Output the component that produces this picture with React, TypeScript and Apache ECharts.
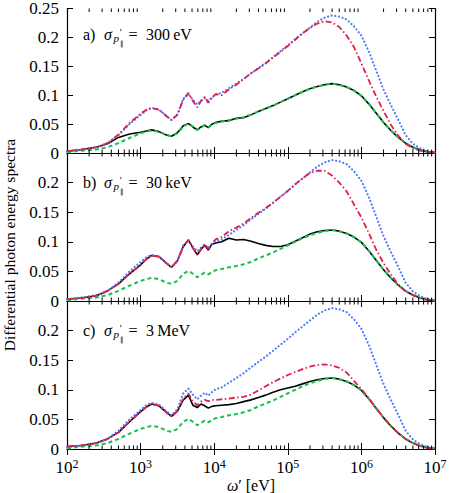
import React, { useEffect, useRef } from 'react';
import * as echarts from 'echarts';

// photon energy omega' [eV]
const omega = [100, 158, 251, 355, 501, 708, 1000, 1202, 1413, 1778, 2239, 2630, 3162, 3802, 4467, 5129, 5888, 6607, 7413, 8318, 9333, 10470, 12590, 15850, 19950, 25120, 31620, 39810, 50120, 63100, 79430, 1e5, 1.259e5, 1.585e5, 1.995e5, 2.512e5, 3.162e5, 3.981e5, 5.012e5, 6.31e5, 7.943e5, 1e6, 1.259e6, 1.585e6, 1.995e6, 2.512e6, 3.162e6, 3.981e6, 5.012e6, 6.31e6, 7.943e6, 1e7];

// green dashed (same in all panels)
const greenCurve = [0.001, 0.004, 0.006, 0.010, 0.017, 0.026, 0.034, 0.037, 0.039, 0.037, 0.031, 0.029, 0.034, 0.046, 0.051, 0.046, 0.040, 0.044, 0.048, 0.045, 0.049, 0.052, 0.054, 0.057, 0.059, 0.062, 0.066, 0.072, 0.077, 0.082, 0.088, 0.094, 0.100, 0.106, 0.111, 0.115, 0.118, 0.120, 0.118, 0.114, 0.108, 0.099, 0.085, 0.069, 0.053, 0.039, 0.027, 0.017, 0.010, 0.005, 0.002, 0.001];

// blue dotted (same in all panels)
const blueCurve = [0.003, 0.006, 0.010, 0.017, 0.031, 0.050, 0.066, 0.074, 0.078, 0.075, 0.064, 0.057, 0.067, 0.094, 0.102, 0.092, 0.084, 0.090, 0.095, 0.090, 0.096, 0.101, 0.104, 0.112, 0.120, 0.128, 0.138, 0.147, 0.156, 0.166, 0.176, 0.186, 0.197, 0.207, 0.217, 0.227, 0.234, 0.238, 0.236, 0.231, 0.219, 0.203, 0.176, 0.143, 0.110, 0.083, 0.058, 0.031, 0.016, 0.008, 0.003, 0.001];

// panel a) sigma = 300 eV
const blackA = [0.003, 0.006, 0.010, 0.016, 0.027, 0.033, 0.036, 0.038, 0.040, 0.037, 0.031, 0.029, 0.035, 0.047, 0.051, 0.045, 0.040, 0.045, 0.048, 0.044, 0.050, 0.053, 0.055, 0.056, 0.060, 0.061, 0.066, 0.072, 0.077, 0.082, 0.088, 0.094, 0.100, 0.106, 0.111, 0.115, 0.118, 0.120, 0.118, 0.114, 0.108, 0.099, 0.085, 0.069, 0.053, 0.039, 0.027, 0.017, 0.010, 0.005, 0.002, 0.001];
const redA = [0.003, 0.006, 0.010, 0.017, 0.032, 0.052, 0.068, 0.075, 0.078, 0.075, 0.064, 0.057, 0.066, 0.092, 0.104, 0.090, 0.079, 0.090, 0.097, 0.087, 0.096, 0.102, 0.100, 0.110, 0.118, 0.128, 0.138, 0.146, 0.155, 0.165, 0.175, 0.185, 0.196, 0.207, 0.216, 0.224, 0.228, 0.226, 0.218, 0.203, 0.183, 0.155, 0.126, 0.098, 0.073, 0.049, 0.030, 0.016, 0.008, 0.004, 0.002, 0.001];

// panel b) sigma = 30 keV
const blackB = [0.003, 0.005, 0.009, 0.017, 0.029, 0.046, 0.061, 0.071, 0.077, 0.075, 0.064, 0.057, 0.068, 0.092, 0.103, 0.090, 0.078, 0.087, 0.094, 0.086, 0.096, 0.098, 0.100, 0.106, 0.103, 0.104, 0.101, 0.097, 0.094, 0.092, 0.092, 0.095, 0.101, 0.107, 0.113, 0.117, 0.119, 0.120, 0.118, 0.114, 0.108, 0.099, 0.085, 0.069, 0.053, 0.039, 0.027, 0.017, 0.010, 0.005, 0.002, 0.001];
const redB = [0.003, 0.005, 0.009, 0.017, 0.029, 0.046, 0.061, 0.071, 0.077, 0.075, 0.064, 0.057, 0.068, 0.092, 0.103, 0.090, 0.078, 0.088, 0.096, 0.088, 0.098, 0.104, 0.108, 0.118, 0.124, 0.131, 0.140, 0.149, 0.157, 0.166, 0.176, 0.186, 0.197, 0.207, 0.216, 0.220, 0.220, 0.212, 0.200, 0.185, 0.163, 0.141, 0.115, 0.087, 0.064, 0.045, 0.028, 0.016, 0.010, 0.004, 0.002, 0.001];

// panel c) sigma = 3 MeV
const blackC = [0.004, 0.006, 0.010, 0.017, 0.028, 0.046, 0.063, 0.071, 0.076, 0.073, 0.062, 0.055, 0.064, 0.083, 0.091, 0.074, 0.070, 0.076, 0.073, 0.069, 0.072, 0.073, 0.074, 0.075, 0.077, 0.080, 0.083, 0.087, 0.091, 0.096, 0.100, 0.103, 0.106, 0.110, 0.114, 0.117, 0.119, 0.120, 0.118, 0.114, 0.108, 0.099, 0.085, 0.069, 0.053, 0.039, 0.027, 0.017, 0.010, 0.005, 0.002, 0.001];
const redC = [0.004, 0.006, 0.010, 0.017, 0.028, 0.046, 0.063, 0.071, 0.076, 0.073, 0.062, 0.055, 0.064, 0.085, 0.094, 0.080, 0.074, 0.080, 0.083, 0.081, 0.083, 0.083, 0.084, 0.085, 0.087, 0.088, 0.092, 0.099, 0.106, 0.113, 0.119, 0.125, 0.130, 0.135, 0.139, 0.142, 0.143, 0.141, 0.137, 0.129, 0.115, 0.101, 0.086, 0.069, 0.053, 0.039, 0.027, 0.017, 0.010, 0.005, 0.002, 0.001];

const panelTags = ['a)', 'b)', 'c)'];
const panelSigma = ['300\u2009eV', '30\u2009keV', '3\u2009MeV'];
const blackSeries = [blackA, blackB, blackC];
const redSeries = [redA, redB, redC];

const xTickExponents = [2, 3, 4, 5, 6, 7];
const yTickLabels = ['0', '0.05', '0.1', '0.15', '0.2', '0.25'];
const minorMultipliers = [2, 3, 4, 5, 6, 7, 8, 9];

const FONT = 'Liberation Serif';
const LEFT = 67;
const WIDTH = 368;
const TOP = 5;
const PH = 148;

export default function App() {
  const ref = useRef<HTMLDivElement>(null);
  useEffect(() => {
    if (!ref.current) return;
    const chart = echarts.init(ref.current, undefined, { renderer: 'svg' });

    const minorTicks: number[][] = [];
    for (let d = 0; d < xTickExponents.length - 1; d++) {
      for (const m of minorMultipliers) minorTicks.push([m * Math.pow(10, xTickExponents[d]), 0]);
    }

    const grids: any[] = [];
    const xAxes: any[] = [];
    const yAxes: any[] = [];
    const series: any[] = [];
    const graphics: any[] = [];

    const axisLine = { show: true, lineStyle: { color: '#000', width: 1.2 } };
    const axisTick = { show: true, inside: true, length: 6, lineStyle: { color: '#000', width: 1 } };

    for (let i = 0; i < 3; i++) {
      grids.push({ left: LEFT, width: WIDTH, top: TOP + PH * i, height: PH, containLabel: false });
      for (const pos of ['bottom', 'top']) {
        xAxes.push({
          type: 'log', logBase: 10, gridIndex: i, min: 100, max: 1e7, position: pos,
          axisLine, axisTick, splitLine: { show: false },
          axisLabel: {
            show: i === 2 && pos === 'bottom', margin: 9,
            formatter: (v: number) => {
              const e = Math.round(Math.log10(v));
              return xTickExponents.includes(e) ? `{b|10}{e|${e}}` : '';
            },
            rich: {
              b: { fontSize: 17, fontFamily: FONT, color: '#000' },
              e: { fontSize: 12, fontFamily: FONT, color: '#000', verticalAlign: 'top', padding: [0, 0, 6, 0] },
            },
          },
        });
      }
      for (const pos of ['left', 'right']) {
        yAxes.push({
          type: 'value', gridIndex: i, min: 0, max: 0.25, interval: 0.05, position: pos,
          axisLine, axisTick, splitLine: { show: false },
          axisLabel: {
            show: pos === 'left', margin: 8, fontSize: 17, fontFamily: FONT, color: '#000',
            formatter: (v: number) => {
              const k = Math.round(v / 0.05);
              if (k === 5 && i > 0) return '';
              return yTickLabels[k] ?? '';
            },
          },
        });
      }
      const xi = 2 * i;
      const yi = 2 * i;
      const mk = (arr: number[]) => omega.map((w, k) => [w, arr[k]]);
      series.push({
        type: 'line', xAxisIndex: xi, yAxisIndex: yi, data: mk(blackSeries[i]), showSymbol: false, symbol: 'none',
        lineStyle: { color: '#000000', width: 1.6 }, z: 2,
      });
      series.push({
        type: 'line', xAxisIndex: xi, yAxisIndex: yi, data: mk(blueCurve), showSymbol: false, symbol: 'none',
        lineStyle: { color: '#4f7cff', width: 2.2, type: [0.1, 3.6], cap: 'round' }, z: 3,
      });
      series.push({
        type: 'line', xAxisIndex: xi, yAxisIndex: yi, data: mk(greenCurve), showSymbol: false, symbol: 'none',
        lineStyle: { color: '#18c050', width: 2, type: [4, 3] }, z: 4,
      });
      series.push({
        type: 'line', xAxisIndex: xi, yAxisIndex: yi, data: mk(redSeries[i]), showSymbol: false, symbol: 'none',
        lineStyle: { color: '#e0204c', width: 1.8, type: [6, 2.5, 1.5, 2.5] }, z: 5,
      });
      series.push({
        type: 'custom', xAxisIndex: xi, yAxisIndex: yi, data: minorTicks, silent: true, z: 6, clip: false,
        renderItem: (_p: any, api: any) => {
          const w = api.value(0);
          const b = api.coord([w, 0]);
          const t = api.coord([w, 0.25]);
          return {
            type: 'group',
            children: [
              { type: 'line', shape: { x1: b[0], y1: b[1], x2: b[0], y2: b[1] - 3.5 }, style: { stroke: '#000', lineWidth: 1 } },
              { type: 'line', shape: { x1: t[0], y1: t[1], x2: t[0], y2: t[1] + 3.5 }, style: { stroke: '#000', lineWidth: 1 } },
            ],
          };
        },
      });

      const cy = 34.3 + PH * i;
      const txt = (x: number, y: number, s: string, size: number, italic = false) => ({
        type: 'text', x, y, silent: true, z: 100,
        style: { text: s, fontSize: size, fontFamily: FONT, fontStyle: italic ? 'italic' : 'normal', fill: '#000', textAlign: 'left', textVerticalAlign: 'middle' },
      });
      graphics.push(txt(83, cy, panelTags[i], 16));
      graphics.push(txt(104, cy, '\u03c3', 16, true));
      graphics.push(txt(113.5, cy + 3.5, 'p', 11, true));
      graphics.push(txt(119.8, cy - 1.5, '\u2032', 10));
      graphics.push(txt(119.6, cy + 9.5, '\u2225', 7));
      graphics.push(txt(128.5, cy, '=', 16));
      graphics.push(txt(146, cy, panelSigma[i], 16));
    }

    graphics.push({
      type: 'text', x: 9, y: 245, rotation: Math.PI / 2, silent: true,
      style: { text: 'Differential photon energy spectra', fontSize: 15.5, fontFamily: FONT, fill: '#000', textAlign: 'center', textVerticalAlign: 'middle' },
    });
    graphics.push({
      type: 'text', x: 251, y: 485, silent: true,
      style: {
        text: '{i|\u03c9}{n|\u2032 [eV]}', fill: '#000', textAlign: 'center', textVerticalAlign: 'middle',
        rich: { i: { fontSize: 16, fontStyle: 'italic', fontFamily: FONT }, n: { fontSize: 16, fontFamily: FONT } },
      },
    });

    chart.setOption({
      animation: false,
      backgroundColor: '#fff',
      grid: grids,
      xAxis: xAxes,
      yAxis: yAxes,
      series,
      graphic: graphics,
    });
    return () => chart.dispose();
  }, []);
  return <div ref={ref} style={{ position: 'absolute', left: 0, top: 0, width: 461, height: 493 }} />;
}
